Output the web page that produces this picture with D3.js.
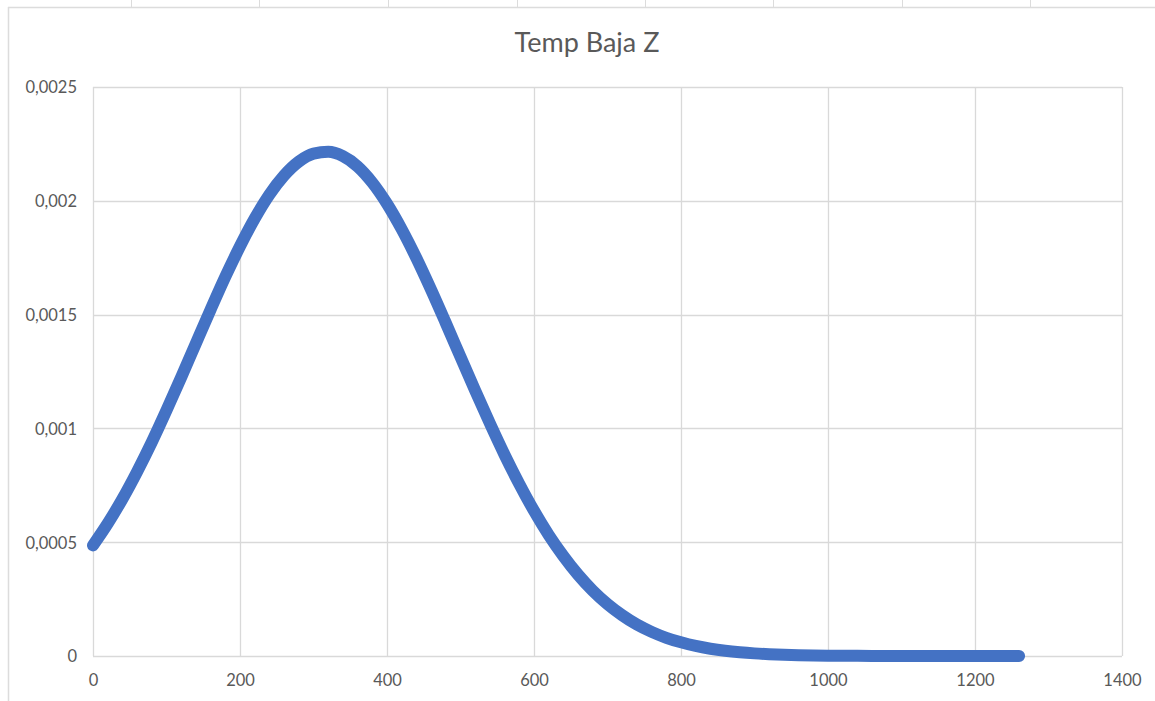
<!DOCTYPE html>
<html>
<head>
<meta charset="utf-8">
<script src="https://cdn.jsdelivr.net/npm/d3@7"></script>
<style>
  html, body { margin: 0; padding: 0; background: #fff; }
  svg { display: block; }
  text { font-family: Lato, "Open Sans", sans-serif; fill: #595959; }
</style>
</head>
<body>
<svg id="chart" width="1155" height="701"></svg>
<script>
// ---- data ----
const chartTitle = "Temp Baja Z";
const xValues = [0,20,40,60,80,100,120,140,160,180,200,220,240,260,280,300,320,340,360,380,
  400,420,440,460,480,500,520,540,560,580,600,620,640,660,680,700,720,740,760,780,
  800,820,840,860,880,900,920,940,960,980,1000,1020,1040,1060,1080,1100,1120,1140,1160,1180,
  1200,1220,1240,1260];
const yValues = [0.000486,0.000582,0.000690,0.000810,0.000940,0.001080,0.001225,0.001374,0.001522,0.001666,
  0.001800,0.001922,0.002027,0.002111,0.002172,0.002207,0.002215,0.002196,0.002151,0.002080,
  0.001987,0.001875,0.001748,0.001609,0.001463,0.001314,0.001166,0.001022,0.000884,0.000756,
  0.000638,0.000532,0.000439,0.000357,0.000287,0.000228,0.000179,0.000138,0.000106,0.000080,
  0.000060,0.000044,0.000032,0.000023,0.0000164,0.0000115,0.0000080,0.0000055,0.0000037,0.0000025,
  0.0000016,0.0000010,0.0000006,0.0000004,0.0000002,0.0000001,0.0000001,0.00000005,0.00000003,0.00000002,
  0.00000001,0.00000001,0.0,0.0];
const xTicks = [0,200,400,600,800,1000,1200,1400];
const yTicks = [0,0.0005,0.001,0.0015,0.002,0.0025];
const yTickLabels = ["0","0,0005","0,001","0,0015","0,002","0,0025"];
const sheetColumnEdges = [131,259,388,517,645,773,902,1030];

// ---- layout ----
const svg = d3.select("#chart");
const plot = { left: 93, right: 1122, top: 87, bottom: 656 };
const gridColor = "#d9d9d9";
const lineColor = "#4472C4";

const x = d3.scaleLinear().domain([0, 1400]).range([plot.left, plot.right]);
const y = d3.scaleLinear().domain([0, 0.0025]).range([plot.bottom, plot.top]);

// spreadsheet / chart frame decorations
svg.append("line").attr("x1", 8).attr("x2", 1155).attr("y1", 7.5).attr("y2", 7.5)
  .attr("stroke", "#dcdcdc").attr("stroke-width", 1.5);
svg.append("line").attr("x1", 8.5).attr("x2", 8.5).attr("y1", 7).attr("y2", 701)
  .attr("stroke", "#dcdcdc").attr("stroke-width", 1.5);
svg.selectAll("line.col").data(sheetColumnEdges).enter().append("line")
  .attr("class", "col")
  .attr("x1", d => d + 0.5).attr("x2", d => d + 0.5).attr("y1", 0).attr("y2", 7)
  .attr("stroke", "#dcdcdc").attr("stroke-width", 1);

// gridlines
const grid = svg.append("g");
grid.selectAll("line.h").data(yTicks).enter().append("line")
  .attr("x1", plot.left).attr("x2", plot.right)
  .attr("y1", d => Math.round(y(d)) + 0.5).attr("y2", d => Math.round(y(d)) + 0.5)
  .attr("stroke", gridColor).attr("stroke-width", 1.3);
grid.selectAll("line.v").data(xTicks).enter().append("line")
  .attr("y1", plot.top).attr("y2", plot.bottom)
  .attr("x1", d => Math.round(x(d)) + 0.5).attr("x2", d => Math.round(x(d)) + 0.5)
  .attr("stroke", gridColor).attr("stroke-width", 1.3);

// axes (labels only, via d3 axes)
const xAxis = d3.axisBottom(x).tickValues(xTicks).tickSize(0).tickPadding(0).tickFormat(d3.format("d"));
const gx = svg.append("g").attr("transform", `translate(0,${plot.bottom})`).call(xAxis);
gx.select(".domain").remove();
gx.selectAll("text").attr("y", 30).attr("dy", 0).style("font-size", "16.5px").attr("fill", "#595959");

const yAxis = d3.axisLeft(y).tickValues(yTicks).tickSize(0).tickPadding(0)
  .tickFormat((d, i) => yTickLabels[i]);
const gy = svg.append("g").attr("transform", `translate(77,0)`).call(yAxis);
gy.select(".domain").remove();
gy.selectAll("text").attr("x", 0).attr("dy", "0.36em").style("font-size", "16.5px").attr("fill", "#595959");

// series
const pts = xValues.map((v, i) => [v, yValues[i]]);
const line = d3.line().x(d => x(d[0])).y(d => y(d[1])).curve(d3.curveMonotoneX);
svg.append("path").datum(pts)
  .attr("d", line)
  .attr("fill", "none")
  .attr("stroke", lineColor)
  .attr("stroke-width", 12)
  .attr("stroke-linecap", "round")
  .attr("stroke-linejoin", "round");

// title
svg.append("text").attr("x", 587).attr("y", 52)
  .attr("text-anchor", "middle")
  .style("font-size", "27px")
  .text(chartTitle);
</script>
</body>
</html>
